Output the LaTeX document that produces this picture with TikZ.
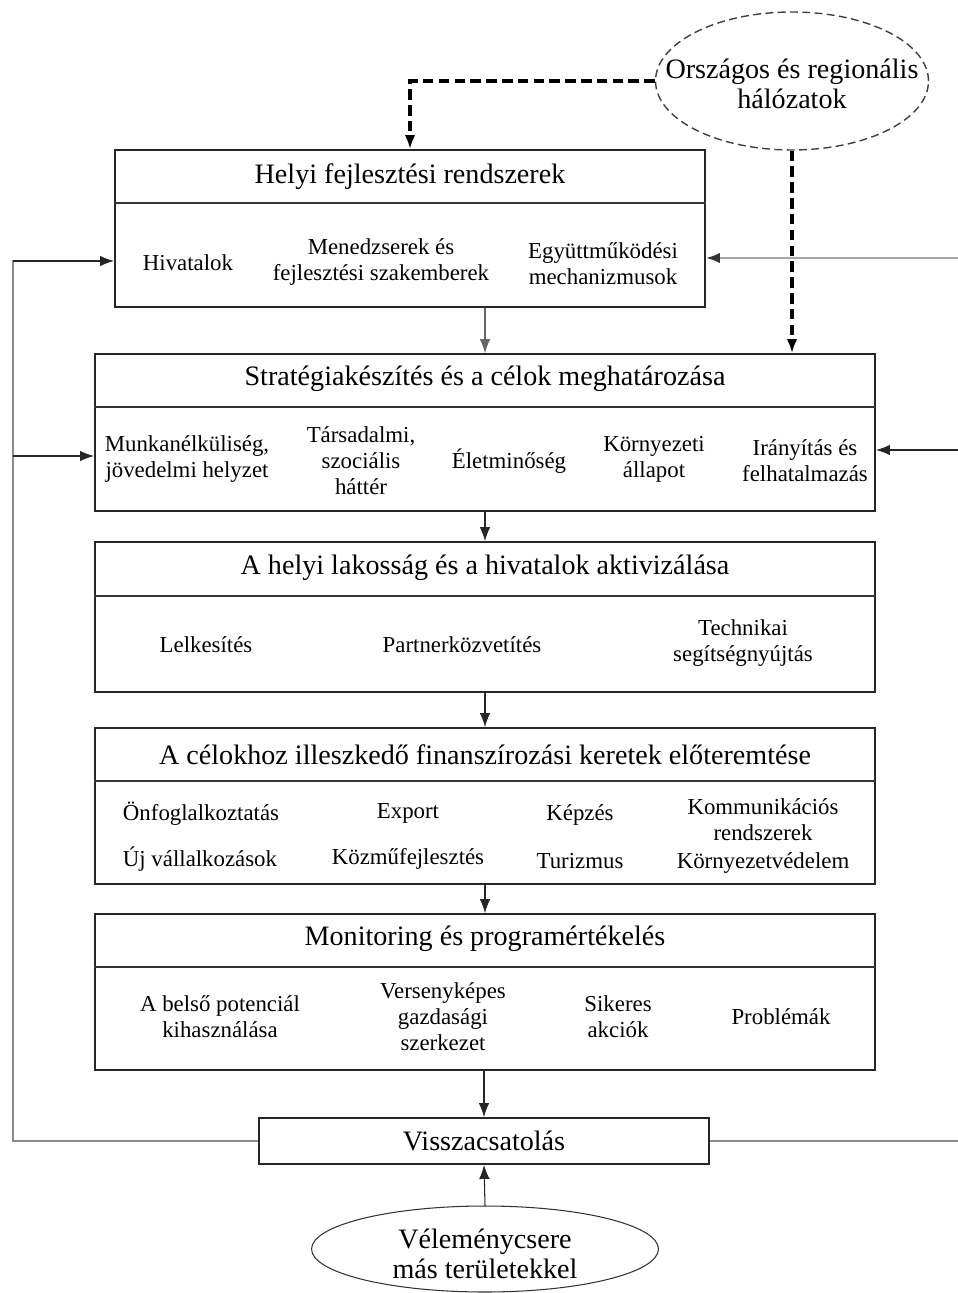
\documentclass[tikz,border=0pt]{standalone}
\usepackage{fontspec}
\setmainfont{Liberation Serif}
\usetikzlibrary{arrows.meta,shapes.geometric,calc}
\begin{document}
\begin{tikzpicture}[x=0.02cm,y=-0.02cm,
  box/.style={draw=black!85, line width=1pt, rectangle, inner sep=0pt},
  divl/.style={draw=black!80, line width=1pt},
  ttl/.style={font=\fontsize{16}{17}\selectfont, align=center, inner sep=0pt},
  itm/.style={font=\fontsize{13}{14.8}\selectfont, align=center, inner sep=0pt},
  arr/.style={-{Latex[length=8pt,width=6pt]}, line width=0.6pt, draw=black!85},
  garr/.style={-{Latex[length=8pt,width=6pt]}, line width=0.6pt, draw=black!60},
  lgarr/.style={-{Latex[length=8pt,width=6pt,color=black!80]}, line width=1.5pt, draw=black!35},
  fbline/.style={line width=1.3pt, draw=black!45},
  dasharr/.style={-{Latex[length=8pt,width=6pt]}, line width=1.9pt, dash pattern=on 6pt off 3pt},
  oval/.style={ellipse, inner sep=0pt},
  ovaltxt/.style={align=center, inner sep=0pt, font=\fontsize{16}{17}\selectfont}
]
\useasboundingbox (0,0) rectangle (957,1293);

% ---------- boxes ----------
\node[box, minimum width=11.8cm, minimum height=3.14cm] (b1) at (410,228.5) {};
\node[box, minimum width=15.6cm, minimum height=3.14cm] (b2) at (485,432.5) {};
\node[box, minimum width=15.6cm, minimum height=3.0cm]  (b3) at (485,617) {};
\node[box, minimum width=15.6cm, minimum height=3.12cm] (b4) at (485,806) {};
\node[box, minimum width=15.6cm, minimum height=3.12cm] (b5) at (485,992) {};
\node[box, minimum width=9.0cm, minimum height=0.92cm, font=\fontsize{16}{17}\selectfont] (b6) at (484,1141) {Visszacsatolás};

% dividers
\coordinate (d1) at (0,203);
\coordinate (d2) at (0,407);
\coordinate (d3) at (0,596);
\coordinate (d4) at (0,781);
\coordinate (d5) at (0,967);
\draw[divl] (b1.west |- d1) -- (b1.east |- d1);
\draw[divl] (b2.west |- d2) -- (b2.east |- d2);
\draw[divl] (b3.west |- d3) -- (b3.east |- d3);
\draw[divl] (b4.west |- d4) -- (b4.east |- d4);
\draw[divl] (b5.west |- d5) -- (b5.east |- d5);

% ---------- ovals ----------
\node[oval, draw=black!75, line width=0.8pt, dash pattern=on 4.5pt off 2.5pt,
      minimum width=5.46cm, minimum height=2.76cm] (e1) at (792,81) {};
\node[ovaltxt] (e1t) at (792,84) {Országos és regionális\\hálózatok};
\node[oval, draw=black!80, line width=0.6pt,
      minimum width=6.94cm, minimum height=1.72cm] (e2) at (485,1249) {};
\node[ovaltxt] (e2t) at (485,1254) {Véleménycsere\\más területekkel};

% ---------- titles ----------
\node[ttl] (t1) at (410,177) {Helyi fejlesztési rendszerek};
\node[ttl] (t2) at (485,379) {Stratégiakészítés és a célok meghatározása};
\node[ttl] (t3) at (485,568) {A helyi lakosság és a hivatalok aktivizálása};
\node[ttl] (t4) at (485,755) {A célokhoz illeszkedő finanszírozási keretek előteremtése};
\node[ttl] (t5) at (485,939) {Monitoring és programértékelés};

% ---------- items ----------
\node[itm] (i11) at (188,263) {Hivatalok};
\node[itm] (i12) at (381,262) {Menedzserek és\\fejlesztési szakemberek};
\node[itm] (i13) at (603,264) {Együttműködési\\mechanizmusok};

\node[itm] (i21) at (187,459) {Munkanélküliség,\\jövedelmi helyzet};
\node[itm] (i22) at (361,461) {Társadalmi,\\szociális\\háttér};
\node[itm] (i23) at (509,461) {Életminőség};
\node[itm] (i24) at (654,459) {Környezeti\\állapot};
\node[itm] (i25) at (805,461) {Irányítás és\\felhatalmazás};

\node[itm] (i31) at (206,645) {Lelkesítés};
\node[itm] (i32) at (462,645) {Partnerközvetítés};
\node[itm] (i33) at (743,643) {Technikai\\segítségnyújtás};

\node[itm] (i41) at (201,814) {Önfoglalkoztatás};
\node[itm] (i42) at (408,813) {Export};
\node[itm] (i43) at (580,815) {Képzés};
\node[itm] (i44) at (763,820) {Kommunikációs\\rendszerek};
\node[itm] (i45) at (200,859) {Új vállalkozások};
\node[itm] (i46) at (408,859) {Közműfejlesztés};
\node[itm] (i47) at (580,861) {Turizmus};
\node[itm] (i48) at (763,863) {Környezetvédelem};

\node[itm] (i51) at (220,1017) {A belső potenciál\\kihasználása};
\node[itm] (i52) at (443,1017) {Versenyképes\\gazdasági\\szerkezet};
\node[itm] (i53) at (618,1017) {Sikeres\\akciók};
\node[itm] (i54) at (781,1017) {Problémák};

% ---------- connectors ----------
\draw[dasharr] (e1.west) -| (b1.north);
\draw[dasharr] (e1.south) -- (e1.south |- b2.north);

\draw[garr] (b2.north |- b1.south) -- (b2.north);
\draw[arr] (b2.south) -- (b3.north);
\draw[arr] (b3.south) -- (b4.north);
\draw[arr] (b4.south) -- (b5.north);
\draw[arr] (b5.south -| b6.north) -- (b6.north);
\draw[arr] (e2.north) -- (b6.south);

% feedback loop left
\coordinate (lt) at (13,261);
\coordinate (lm) at (13,456);
\coordinate (lb) at (13,1141);
\draw[fbline] (b6.west) -- (lb) -- ([yshift=0.6pt]lt);
\draw[arr, line width=0.9pt] (lt) -- (lt -| b1.west);
\draw[arr, line width=0.9pt] (lm) -- (lm -| b2.west);

% feedback loop right
\coordinate (rt) at (965,258);
\coordinate (rm) at (965,450);
\coordinate (rb) at (965,1141);
\draw[fbline] (b6.east) -- (rb) -- (rt);
\draw[lgarr] (rt) -- (rt -| b1.east);
\draw[arr, line width=0.9pt] (rm) -- (rm -| b2.east);
\end{tikzpicture}
\end{document}
